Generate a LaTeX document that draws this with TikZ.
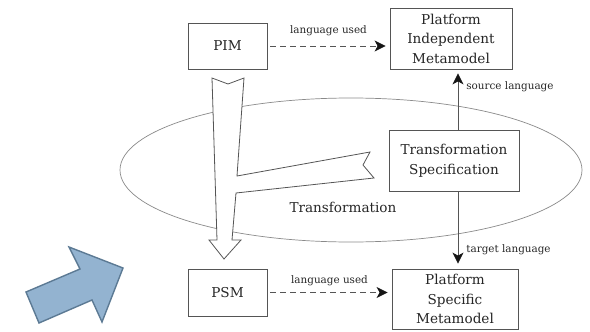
\documentclass[tikz,border=0pt]{standalone}
\usepackage{fontspec}
\setmainfont{DejaVu Serif}
\usetikzlibrary{arrows.meta}
\definecolor{txtgray}{HTML}{262626}
\definecolor{linegray}{HTML}{555555}
\definecolor{ellgray}{HTML}{8A8A8A}
\definecolor{tipblack}{HTML}{151515}
\definecolor{bluefill}{RGB}{147,179,208}
\definecolor{blueline}{RGB}{92,122,148}
\begin{document}
\begin{tikzpicture}[x=1pt,y=-1pt,
  box/.style={draw=linegray, line width=0.8pt, fill=white, align=center, inner sep=0pt,
    font=\fontsize{13.6}{19.5}\selectfont, text=txtgray},
  lbl/.style={font=\fontsize{10.4}{12}\selectfont, text=txtgray, inner sep=1pt},
  conn/.style={draw=linegray, line width=0.8pt, -{Stealth[length=11pt,width=11pt,inset=3pt,color=tipblack,fill=tipblack]}},
  dconn/.style={conn, dash pattern=on 6pt off 4pt}
]
\useasboundingbox (0,0) rectangle (590,332);

% ellipse
\draw[ellgray, line width=0.7pt] (351,170) ellipse [x radius=231pt, y radius=72pt];

% nodes
\node[box, minimum width=79pt, minimum height=46pt] (PIM) at (227.5,46) {PIM};
\node[box, minimum width=122pt, minimum height=61pt] (PIMM) at (451,38.5) {Platform\\Independent\\Metamodel};
\node[box, minimum width=130pt, minimum height=61pt] (TS) at (454,160.5) {Transformation\\Specification};
\node[box, minimum width=79pt, minimum height=47pt] (PSM) at (227.5,292.5) {PSM};
\node[box, minimum width=126pt, minimum height=60pt] (PSMM) at (455,299) {Platform\\Specific\\Metamodel};
\node[font=\fontsize{13.6}{16}\selectfont, text=txtgray] (TL) at (343,207) {Transformation};

% connectors
\draw[dconn, shorten <=3pt, shorten >=4pt] (PIM.east) -- node[lbl, above=9pt] {language used} (PIMM.west |- PIM.east);
\draw[dconn, shorten <=3pt, shorten >=4pt] (PSM.east) -- node[lbl, above=5pt] {language used} (PSMM.west |- PSM.east);
\draw[conn, shorten >=4pt] ([xshift=4pt]TS.north) -- node[lbl, right=7pt, pos=0.72] {source language} ([xshift=4pt]TS.north |- PIMM.south);
\draw[conn, shorten >=5pt] ([xshift=4pt]TS.south) -- node[lbl, right=7pt, pos=0.76] {target language} ([xshift=4pt]TS.south |- PSMM.north);

% hollow transformation arrow
\draw[linegray, line width=0.8pt, fill=white, line join=miter]
  (212,78) -- (228,84) -- (244,78) -- (237,176) -- (370,152) -- (363,165) -- (374,178)
  -- (236,193) -- (232,240) -- (241,240) -- (224,259) -- (209,240) -- (217,240) -- cycle;

% blue block arrow
\draw[blueline, fill=bluefill, line width=1.4pt, line join=miter]
  (39,323) -- (26,292) -- (80,269) -- (69,247) -- (123,268) -- (102,322) -- (92,300) -- cycle;
\end{tikzpicture}
\end{document}
